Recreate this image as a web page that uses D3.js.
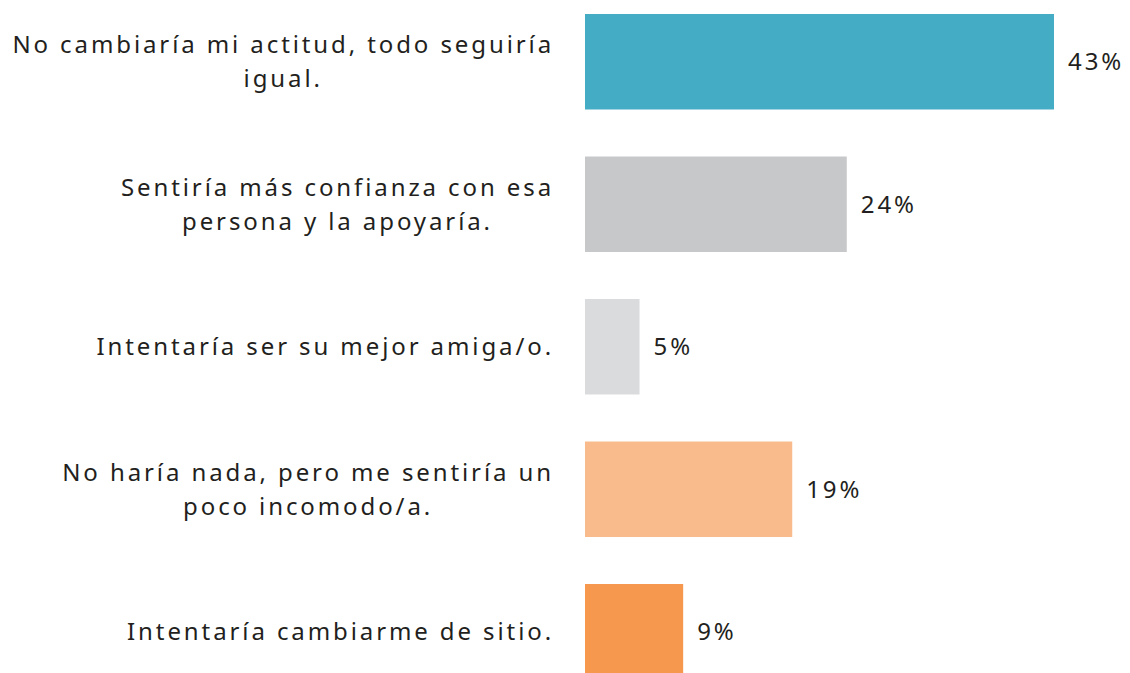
<!DOCTYPE html>
<html lang="es">
<head>
<meta charset="UTF-8">
<title>Bar chart</title>
<script src="https://d3js.org/d3.v7.min.js"></script>
<style>
  body { margin: 0; background: #fff; }
  svg { display: block; }
  text { font-family: "Noto Sans", sans-serif; fill: #231f20; letter-spacing: 2.9px; }
</style>
</head>
<body>
<div id="chart"></div>
<script>
// data
const categories = [
  ["No cambiaría mi actitud, todo seguiría", "igual."],
  ["Sentiría más confianza con esa", "persona y la apoyaría."],
  ["Intentaría ser su mejor amiga/o."],
  ["No haría nada, pero me sentiría un", "poco incomodo/a."],
  ["Intentaría cambiarme de sitio."]
];
const values = [43, 24, 5, 19, 9];
const colors = ["#44acc4", "#c7c8ca", "#dadbdd", "#f9bb8b", "#f7984f"];

const W = 1130, H = 673;
const fontSize = 24;

const svg = d3.select("#chart").append("svg")
  .attr("width", W).attr("height", H);

const x = d3.scaleLinear().domain([0, 43]).range([585, 1054]);
const y = d3.scaleBand()
  .domain(d3.range(values.length))
  .range([-9.5, 703])
  .paddingInner(0.33)
  .paddingOuter(0.165);

// bars
svg.selectAll("rect.bar")
  .data(values)
  .join("rect")
  .attr("class", "bar")
  .attr("x", x(0))
  .attr("y", (d, i) => y(i))
  .attr("width", d => x(d) - x(0))
  .attr("height", y.bandwidth())
  .attr("fill", (d, i) => colors[i]);

// value labels
svg.selectAll("text.val")
  .data(values)
  .join("text")
  .attr("class", "val")
  .attr("x", d => x(d) + 14)
  .attr("y", (d, i) => y(i) + y.bandwidth() / 2)
  .attr("dy", "0.35em")
  .style("font-size", fontSize + "px")
  .text(d => d + "%");

// category labels: lines centred on each other, block right-aligned
const lineH = 34;
const right = 554;
categories.forEach((lines, i) => {
  const g = svg.append("g");
  const cy = y(i) + y.bandwidth() / 2;
  const ts = lines.map((t, j) => g.append("text")
    .attr("y", cy + (j - (lines.length - 1) / 2) * lineH)
    .attr("dy", "0.35em")
    .attr("text-anchor", "middle")
    .style("font-size", fontSize + "px")
    .text(t));
  const maxW = d3.max(ts, t => t.node().getComputedTextLength());
  ts.forEach(t => t.attr("x", right - maxW / 2));
});
</script>
</body>
</html>
